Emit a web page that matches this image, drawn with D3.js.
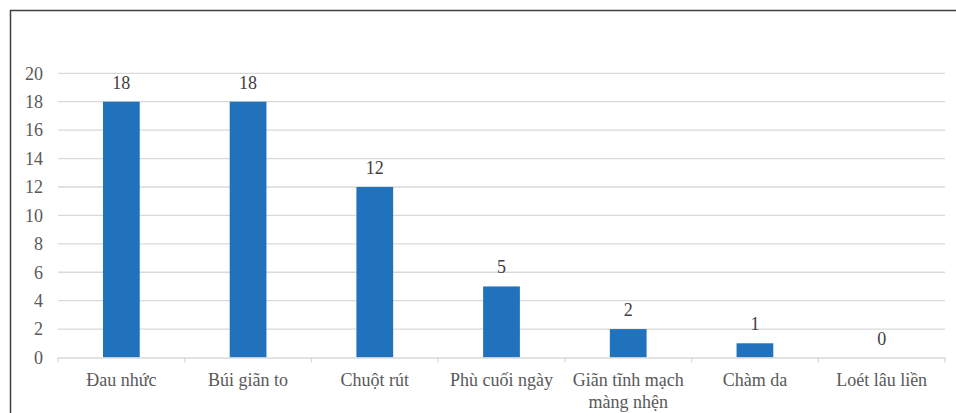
<!DOCTYPE html>
<html><head><meta charset="utf-8">
<script src="https://cdn.jsdelivr.net/npm/d3@7"></script>
<style>html,body{margin:0;padding:0;background:#fff;}svg{display:block;}
svg text{font-family:"Liberation Serif","Times New Roman",serif;}</style>
</head><body>
<svg id="c" width="956" height="413"></svg>
<script>
const categories = ["Đau nhức", "Búi giãn to", "Chuột rút", "Phù cuối ngày", "Giãn tĩnh mạch màng nhện", "Chàm da", "Loét lâu liền"];
const labelLines = [["Đau nhức"], ["Búi giãn to"], ["Chuột rút"], ["Phù cuối ngày"], ["Giãn tĩnh mạch", "màng nhện"], ["Chàm da"], ["Loét lâu liền"]];
const values = [18, 18, 12, 5, 2, 1, 0];
const yTicks = [0, 2, 4, 6, 8, 10, 12, 14, 16, 18, 20];

const svg = d3.select("#c");
const textColor = "#595959";

// chart border
svg.append("rect").attr("x", 10.5).attr("y", 10.5).attr("width", 960).attr("height", 420)
  .attr("fill", "none").attr("stroke", "#404040").attr("stroke-width", 1.5);

const m = {left: 58, right: 945, top: 73.3, bottom: 357.5};
const x = d3.scaleBand().domain(categories).range([m.left, m.right]).paddingInner(0).paddingOuter(0);
const y = d3.scaleLinear().domain([0, 20]).range([m.bottom, m.top]);

// gridlines
svg.append("g").selectAll("line").data(yTicks.filter(d => d > 0)).join("line")
  .attr("x1", m.left).attr("x2", m.right)
  .attr("y1", d => y(d)).attr("y2", d => y(d))
  .attr("stroke", "#d9d9d9").attr("stroke-width", 1.3);

// y axis labels
svg.append("g").selectAll("text").data(yTicks).join("text")
  .attr("x", 43).attr("y", d => y(d)).attr("dy", "0.35em")
  .attr("text-anchor", "end").attr("font-size", 18)
  .attr("fill", textColor).text(d => d);

// bars
const bw = x.bandwidth() * 0.29;
svg.append("g").selectAll("rect").data(values).join("rect")
  .attr("x", (d, i) => x(categories[i]) + x.bandwidth() / 2 - bw / 2)
  .attr("y", d => y(d)).attr("width", bw).attr("height", d => y(0) - y(d))
  .attr("fill", "#1f72bb");

// x axis line + ticks
const xa = svg.append("g");
xa.append("line").attr("x1", m.left).attr("x2", m.right).attr("y1", m.bottom + 0.5).attr("y2", m.bottom + 0.5)
  .attr("stroke", "#d9d9d9").attr("stroke-width", 1.3);
const bounds = categories.map(c => x(c)).concat([m.right]);
xa.selectAll("line.t").data(bounds).join("line").attr("class", "t")
  .attr("x1", d => d).attr("x2", d => d).attr("y1", m.bottom).attr("y2", m.bottom + 5)
  .attr("stroke", "#d9d9d9").attr("stroke-width", 1.3);

// x labels
labelLines.forEach((lines, i) => {
  const cx = x(categories[i]) + x.bandwidth() / 2;
  lines.forEach((ln, j) => {
    svg.append("text").attr("x", cx).attr("y", 386 + j * 22)
      .attr("text-anchor", "middle").attr("font-size", 18)
      .attr("fill", textColor).text(ln);
  });
});

// value labels
svg.append("g").selectAll("text").data(values).join("text")
  .attr("x", (d, i) => x(categories[i]) + x.bandwidth() / 2)
  .attr("y", d => y(d) - 13)
  .attr("text-anchor", "middle").attr("font-size", 18)
  .attr("fill", "#404040").text(d => d);
</script>
</body></html>
